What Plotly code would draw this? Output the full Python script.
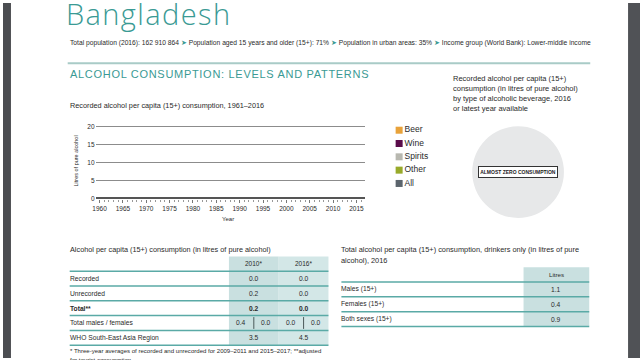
import plotly.graph_objects as go

W, H = 640, 360
def px(x): return x / W
def py(y): return 1 - y / H

# ---------------- data ----------------
country = "Bangladesh"
subtitle_parts = ["Total population (2016): 162 910 864",
                  "Population aged 15 years and older (15+): 71%",
                  "Population in urban areas: 35%",
                  "Income group (World Bank): Lower-middle income"]
section_title = "ALCOHOL CONSUMPTION: LEVELS AND PATTERNS"
line_title = "Recorded alcohol per capita (15+) consumption, 1961–2016"
line_xtitle = "Year"
line_ytitle = "Litres of pure alcohol"
year_ticks = [1960, 1965, 1970, 1975, 1980, 1985, 1990, 1995, 2000, 2005, 2010, 2015]
y_ticks = [0, 5, 10, 15, 20]
pie_title_lines = ["Recorded alcohol per capita (15+)",
                   "consumption (in litres of pure alcohol)",
                   "by type of alcoholic beverage, 2016",
                   "or latest year available"]
beverage_types = ["Beer", "Wine", "Spirits", "Other", "All"]
beverage_colors = ["#e8a23a", "#5a0c4a", "#b8b8b0", "#98aa2a", "#5b646c"]
pie_values = [1]
pie_label = "ALMOST ZERO CONSUMPTION"

t1_title = "Alcohol per capita (15+) consumption (in litres of pure alcohol)"
t1_cols = ["2010*", "2016*"]
t1_rows = ["Recorded", "Unrecorded", "Total**", "Total males / females", "WHO South-East Asia Region"]
t1_2010 = ["0.0", "0.2", "0.2", ["0.4", "0.0"], "3.5"]
t1_2016 = ["0.0", "0.0", "0.0", ["0.0", "0.0"], "4.5"]
t1_bold = [False, False, True, False, False]
t1_notes = ["* Three-year averages of recorded and unrecorded for 2009–2011 and 2015–2017; **adjusted",
            "for tourist consumption."]

t2_title_lines = ["Total alcohol per capita (15+) consumption, drinkers only (in litres of pure",
                  "alcohol), 2016"]
t2_col = "Litres"
t2_rows = ["Males (15+)", "Females (15+)", "Both sexes (15+)"]
t2_vals = ["1.1", "0.4", "0.9"]

# ---------------- style ----------------
TEAL = "#3a9a94"
LINE_TEAL = "#5aaaa6"
SHADE1 = "#c9e0e0"
SHADE2 = "#d3e7e7"
TXT = "#2a2a2a"
FN = "Liberation Sans, Arial, sans-serif"
LX = 65  # left text anchor

fig = go.Figure()

# line chart axes (no recorded data visible: almost zero)
fig.add_trace(go.Scatter(x=[None], y=[None], xaxis="x", yaxis="y",
                         showlegend=False, hoverinfo="skip"))

# legend as categorical scatter
fig.add_trace(go.Scatter(
    x=[0] * len(beverage_types), y=beverage_types, xaxis="x2", yaxis="y2",
    mode="markers+text", text=beverage_types, textposition="middle right",
    marker=dict(symbol="square", size=7, color=beverage_colors),
    textfont=dict(family=FN, size=8.5, color=TXT),
    cliponaxis=False, showlegend=False, hoverinfo="skip"))

# pie
cx, cy, r = 517.5, 171.5, 46.5
fig.add_trace(go.Pie(values=pie_values, marker=dict(colors=["#e7e8e9"]),
                     textinfo="none", sort=False, showlegend=False, hoverinfo="skip",
                     domain=dict(x=[px(cx - r), px(cx + r)], y=[py(cy + r), py(cy - r)])))

shapes = []
ann = []

# page borders
shapes.append(dict(type="rect", xref="paper", yref="paper", x0=0, x1=px(8), y0=0, y1=1,
                   fillcolor="#4b4d51", line_width=0, layer="above"))
shapes.append(dict(type="rect", xref="paper", yref="paper", x0=px(628), x1=1, y0=0, y1=1,
                   fillcolor="#505256", line_width=0, layer="above"))

# header
ann.append(dict(text='<span style="letter-spacing:1.4px">%s</span>' % country,
                x=px(61), y=py(11), xanchor="left", yanchor="middle",
                font=dict(family="Open Sans", size=29, color=TEAL, weight=300)))
arrow = ' <span style="color:%s">➤</span> ' % TEAL
ann.append(dict(text=arrow.join(subtitle_parts), x=px(LX), y=py(41), xanchor="left",
                yanchor="middle", font=dict(family=FN, size=6.7, color=TXT)))
shapes.append(dict(type="line", xref="paper", yref="paper", x0=px(65), x1=px(590),
                   y0=py(61), y1=py(61), line=dict(color="#a9cbc7", width=2)))
ann.append(dict(text='<span style="letter-spacing:0.7px">%s</span>' % section_title,
                x=px(LX), y=py(72), xanchor="left", yanchor="middle",
                font=dict(family=FN, size=11, color=TEAL)))

# line chart titles
ann.append(dict(text=line_title, x=px(LX), y=py(104), xanchor="left", yanchor="middle",
                font=dict(family=FN, size=7.3, color=TXT)))
ann.append(dict(text=line_ytitle, x=px(73), y=py(160), xanchor="center", yanchor="middle",
                textangle=-90, font=dict(family=FN, size=5.5, color=TXT)))
ann.append(dict(text=line_xtitle, x=px(226), y=py(219), xanchor="center", yanchor="middle",
                font=dict(family=FN, size=6, color=TXT)))

# pie title
for i, t in enumerate(pie_title_lines):
    ann.append(dict(text=t, x=px(450), y=py(77 + 10 * i), xanchor="left", yanchor="middle",
                    font=dict(family=FN, size=7.5, color=TXT)))
ann.append(dict(text="<b>%s</b>" % pie_label, x=px(cx), y=py(cy), xanchor="center",
                yanchor="middle", width=76, height=8, bgcolor="white", bordercolor="#333",
                borderwidth=1, borderpad=1, font=dict(family=FN, size=5, color="#222")))

# ---------------- table 1 ----------------
tx0, c1, c2, c3 = 67, 227, 277, 327
hdr_top, row_h = 257, 15
shapes.append(dict(type="rect", xref="paper", yref="paper", x0=px(c1), x1=px(c2),
                   y0=py(hdr_top + row_h * (len(t1_rows) + 1)), y1=py(hdr_top),
                   fillcolor=SHADE1, line_width=0, layer="below"))
shapes.append(dict(type="rect", xref="paper", yref="paper", x0=px(c2), x1=px(c3),
                   y0=py(hdr_top + row_h * (len(t1_rows) + 1)), y1=py(hdr_top),
                   fillcolor=SHADE2, line_width=0, layer="below"))
ann.append(dict(text=t1_title, x=px(LX), y=py(250), xanchor="left", yanchor="middle",
                font=dict(family=FN, size=7.3, color=TXT)))
for j, c in enumerate(t1_cols):
    ann.append(dict(text=c, x=px((c1 + c2) / 2 + 50 * j), y=py(hdr_top + row_h / 2), xanchor="center",
                    yanchor="middle", font=dict(family=FN, size=6.5, color=TXT)))
for i in range(len(t1_rows) + 1):
    yl = hdr_top + row_h * (i + 1)
    shapes.append(dict(type="line", xref="paper", yref="paper", x0=px(tx0), x1=px(c3),
                       y0=py(yl), y1=py(yl), line=dict(color=LINE_TEAL, width=1.5)))
for i, lab in enumerate(t1_rows):
    yc = hdr_top + row_h * (i + 1) + row_h / 2
    b = t1_bold[i]
    fmt = (lambda s: "<b>%s</b>" % s) if b else (lambda s: s)
    ann.append(dict(text=fmt(lab), x=px(LX), y=py(yc), xanchor="left", yanchor="middle",
                    font=dict(family=FN, size=6.7, color=TXT)))
    for j, col in enumerate([t1_2010, t1_2016]):
        left = c1 + 50 * j
        v = col[i]
        if isinstance(v, list):
            for k, sv in enumerate(v):
                ann.append(dict(text=sv, x=px(left + 12.5 + 25 * k), y=py(yc), xanchor="center",
                                yanchor="middle", font=dict(family=FN, size=6.7, color=TXT)))
            shapes.append(dict(type="line", xref="paper", yref="paper", x0=px(left + 25),
                               x1=px(left + 25), y0=py(yc - 6), y1=py(yc + 6),
                               line=dict(color="#4a5a5a", width=1)))
        else:
            ann.append(dict(text=fmt(v), x=px(left + 25), y=py(yc), xanchor="center",
                            yanchor="middle", font=dict(family=FN, size=6.7, color=TXT)))
for k, t in enumerate(t1_notes):
    ann.append(dict(text=t, x=px(LX), y=py(353 + 9 * k), xanchor="left", yanchor="middle",
                    font=dict(family=FN, size=6.05, color=TXT)))

# ---------------- table 2 ----------------
ux0, uc1, uc2 = 340, 523, 589
u_top, u_h = 268, 15
shapes.append(dict(type="rect", xref="paper", yref="paper", x0=px(uc1), x1=px(uc2),
                   y0=py(u_top + u_h * (len(t2_rows) + 1)), y1=py(u_top),
                   fillcolor=SHADE1, line_width=0, layer="below"))
for k, t in enumerate(t2_title_lines):
    ann.append(dict(text=t, x=px(ux0 - 2), y=py(250 + 11 * k), xanchor="left", yanchor="middle",
                    font=dict(family=FN, size=7.4, color=TXT)))
ann.append(dict(text=t2_col, x=px((uc1 + uc2) / 2), y=py(u_top + u_h / 2), xanchor="center",
                yanchor="middle", font=dict(family=FN, size=6.2, color=TXT)))
for i in range(len(t2_rows) + 1):
    yl = u_top + u_h * (i + 1)
    shapes.append(dict(type="line", xref="paper", yref="paper", x0=px(ux0), x1=px(uc2),
                       y0=py(yl), y1=py(yl), line=dict(color=LINE_TEAL, width=1.5)))
for i, lab in enumerate(t2_rows):
    yc = u_top + u_h * (i + 1) + u_h / 2
    ann.append(dict(text=lab, x=px(ux0 - 2), y=py(yc), xanchor="left", yanchor="middle",
                    font=dict(family=FN, size=6.7, color=TXT)))
    ann.append(dict(text=t2_vals[i], x=px((uc1 + uc2) / 2), y=py(yc), xanchor="center",
                    yanchor="middle", font=dict(family=FN, size=6.7, color=TXT)))

for a in ann:
    a.update(xref="paper", yref="paper", showarrow=False)

upp = 73 / 20.0  # px per unit on y
fig.update_layout(
    width=W, height=H, margin=dict(l=0, r=0, t=0, b=0),
    paper_bgcolor="white", plot_bgcolor="rgba(0,0,0,0)",
    shapes=shapes, annotations=ann, showlegend=False,
    xaxis=dict(domain=[px(93), px(364)], range=[1959.15, 2016.9], tickvals=year_ticks,
               ticks="outside", ticklen=3, tickcolor="#777", showgrid=False, zeroline=False,
               showline=False, tickfont=dict(family=FN, size=6.5, color=TXT),
               minor=dict(dtick=1, ticks="outside", ticklen=2, tickcolor="#999"),
               fixedrange=True),
    yaxis=dict(domain=[py(198 + 0.3 * upp), py(125 - 0.3 * upp)], range=[-0.3, 20.3],
               tickvals=y_ticks, showgrid=True, gridcolor="#8c8c8c", gridwidth=1,
               zeroline=True, zerolinecolor="#555", zerolinewidth=1.5, ticks="",
               tickfont=dict(family=FN, size=6.5, color=TXT), fixedrange=True),
    xaxis2=dict(domain=[px(398), px(440)], range=[0, 1], visible=False, anchor="y2",
                fixedrange=True),
    yaxis2=dict(domain=[py(189.75), py(122.25)], type="category", range=[4.5, -0.5],
                categoryarray=beverage_types, visible=False, anchor="x2", fixedrange=True),
)

fig.write_html("out.html", config={"displayModeBar": False},
               post_script="document.body.style.margin='0';document.body.style.overflow='hidden';")
